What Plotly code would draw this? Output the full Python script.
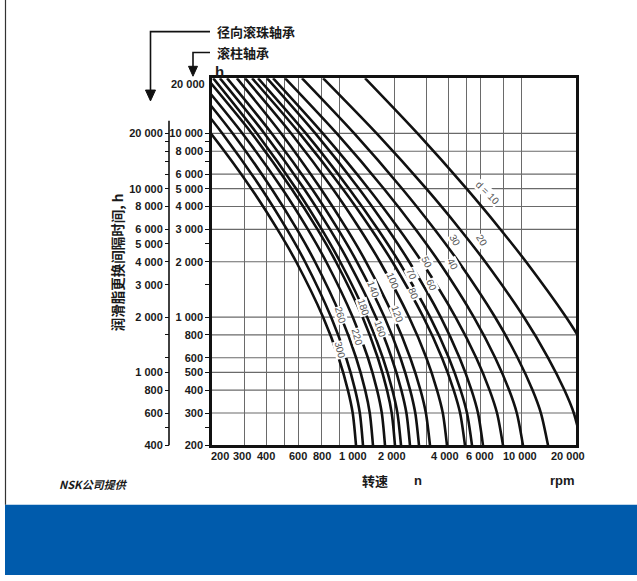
import math
import plotly.graph_objects as go

W, H = 637, 581

# ---------------- data ----------------
speed_tick_values = [200, 300, 400, 600, 800, 1000, 2000, 4000, 6000, 10000, 20000]
speed_tick_labels = ["200", "300", "400", "600", "800", "1 000", "2 000", "4 000", "6 000", "10 000", "20 000"]
speed_grid = [300, 400, 500, 600, 800, 1000, 2000, 3000, 4000, 5000, 6000, 8000, 10000]

roller_tick_values = [10000, 8000, 6000, 5000, 4000, 3000, 2000, 1000, 800, 600, 500, 400, 300, 200]
roller_tick_labels = ["10 000", "8 000", "6 000", "5 000", "4 000", "3 000", "2 000",
                      "1 000", "800", "600", "500", "400", "300", "200"]
roller_minor = [9000, 7000, 2500, 1500, 250]
roller_grid = [10000, 8000, 6000, 5000, 4000, 3000, 2000, 1000, 800, 600, 500, 400, 300]

ball_tick_values = [20000, 10000, 8000, 6000, 5000, 4000, 3000, 2000, 1000, 800, 600, 400]
ball_tick_labels = ["20 000", "10 000", "8 000", "6 000", "5 000", "4 000", "3 000", "2 000",
                    "1 000", "800", "600", "400"]
ball_minor = [18000, 16000, 14000, 12000, 1600, 1200, 500]

# grease replenishment interval (roller bearings), h
hours = [20000, 10000, 5000, 3000, 2000, 1000, 600, 400, 300, 200]
# speed n (rpm) read at each hour level above, one list per bore diameter d (mm)
speed_d10 = [1386, 2692, 5010, 7696, 10626, 17620, 24400, None, None, None]
speed_d20 = [815, 1605, 3010, 4616, 6340, 10334, 14050, 17274, 19450, 21580]
speed_d30 = [624, 1209, 2218, 3346, 4528, 7176, 9552, 11536, 12828, 14040]
speed_d40 = [504, 969, 1760, 2632, 3530, 5490, 7194, 8580, 9456, 10228]
speed_d50 = [433, 813, 1450, 2138, 2840, 4354, 5658, 6702, 7362, 7944]
speed_d60 = [401, 739, 1285, 1856, 2424, 3612, 4582, 5332, 5788, 6166]
speed_d70 = [358, 656, 1133, 1634, 2128, 3158, 4000, 4644, 5036, 5366]
speed_d80 = [332, 606, 1045, 1503, 1958, 2898, 3668, 4256, 4616, 4910]
speed_d100 = [304, 545, 921, 1303, 1673, 2418, 3010, 3446, 3708, 3910]
speed_d120 = [274, 480, 792, 1104, 1402, 1993, 2454, 2796, 2994, 3154]
speed_d140 = [242, 426, 708, 986, 1251, 1771, 2168, 2454, 2618, 2744]
speed_d160 = [221, 388, 641, 890, 1126, 1589, 1940, 2194, 2340, 2448]
speed_d180 = [203, 353, 580, 802, 1012, 1423, 1736, 1960, 2088, 2186]
speed_d200 = [187, 331, 547, 760, 959, 1343, 1629, 1831, 1943, 2025]
speed_d220 = [167, 294, 486, 673, 848, 1186, 1438, 1615, 1714, 1785]
speed_d260 = [149, 260, 425, 586, 736, 1024, 1238, 1389, 1472, 1533]
speed_d280 = [131, 228, 374, 516, 649, 902, 1091, 1224, 1298, 1351]
speed_d300 = [111, 197, 329, 458, 580, 815, 992, 1116, 1186, 1237]

curves = [
    (10, speed_d10), (20, speed_d20), (30, speed_d30), (40, speed_d40), (50, speed_d50),
    (60, speed_d60), (70, speed_d70), (80, speed_d80), (100, speed_d100), (120, speed_d120),
    (140, speed_d140), (160, speed_d160), (180, speed_d180), (200, speed_d200),
    (220, speed_d220), (260, speed_d260), (280, speed_d280), (300, speed_d300),
]

curve_labels = ["d = 10", "20", "30", "40", "50", "60", "70", "80", "100", "120",
                "140", "160", "180", "260", "220", "300"]

# ---------------- layout helpers ----------------
def px(x):
    return x / W

def py(y):
    return 1 - y / H

X0, X1, Y0, Y1 = 212, 576, 79, 450   # plot frame in pixels
FONT = "Liberation Sans, Arial, Noto Sans CJK SC, sans-serif"
CJK = "Noto Sans CJK SC, Liberation Sans, sans-serif"

fig = go.Figure()

for d, ns in curves:
    xs, ys = [], []
    for n, h in zip(ns, hours):
        if n is not None:
            xs.append(n)
            ys.append(h)
    fig.add_trace(go.Scatter(x=xs, y=ys, mode="lines",
                             line=dict(color="#111111", width=2.6, shape="spline", smoothing=0.8),
                             hoverinfo="skip", showlegend=False))

# invisible trace that activates the ball-bearing axis
fig.add_trace(go.Scatter(x=[1000], y=[1000], yaxis="y2", mode="markers",
                         marker=dict(opacity=0), hoverinfo="skip", showlegend=False))

ann = []

def text(t, x, y, size=11, xanchor="center", yanchor="middle", angle=0,
         color="#1a1a1a", family=FONT, weight="bold", style="normal", bg=None):
    d = dict(text=t, x=px(x), y=py(y), xref="paper", yref="paper", showarrow=False,
             xanchor=xanchor, yanchor=yanchor, textangle=angle,
             font=dict(family=family, size=size, color=color, weight=weight, style=style))
    if bg:
        d["bgcolor"] = bg
        d["borderpad"] = 0
    ann.append(d)

# x tick labels
x_label_px = [220, 242, 266, 298, 322, 353, 392, 445, 480, 520, 568]
for lab, xp in zip(speed_tick_labels, x_label_px):
    text(lab, xp, 461, size=11)

text("20 000", 207, 85, size=11, xanchor="right")
text("h", 213, 72, size=15, xanchor="left")
text("滚柱轴承", 215, 53, size=13, xanchor="left", family=CJK)
text("径向滚珠轴承", 215, 32, size=13, xanchor="left", family=CJK)
text("润滑脂更换间隔时间, h", 117, 265, size=13.5, angle=-90, family=CJK)
text("转速", 375, 486, size=13, family=CJK)
text("n", 418, 486, size=13)
text("rpm", 562, 486, size=13)
text("NSK公司提供", 57, 489, size=11, xanchor="left", family=CJK, style="italic")

# curve labels (gray, rotated, next to / in a gap of the line)
label_pos = [(487, 195, 45), (482, 243, 58), (455, 243, 60), (453, 267, 62), (427, 265, 64),
             (432, 288, 66), (412, 277, 66), (413, 297, 68), (393, 283, 68), (397, 317, 70),
             (373, 293, 70), (380, 332, 72), (363, 310, 72), (340, 318, 74), (357, 340, 74),
             (340, 353, 76)]
for lab, (xp, yp, ang) in zip(curve_labels, label_pos):
    text(lab, xp, yp, size=10, angle=ang, color="#555555", weight="normal", bg="white")

shapes = []
# blue band
shapes.append(dict(type="rect", xref="paper", yref="paper", x0=px(5), x1=1, y0=0, y1=py(510),
                   fillcolor="#005bac", line=dict(width=0), layer="below"))
# left border
shapes.append(dict(type="line", xref="paper", yref="paper", x0=px(5.5), x1=px(5.5), y0=py(0), y1=py(510),
                   line=dict(color="#333333", width=1.2)))
# ball-bearing axis line
shapes.append(dict(type="line", xref="paper", yref="paper", x0=px(169), x1=px(169), y0=py(122), y1=py(450),
                   line=dict(color="#111111", width=1.6)))

def path(points):
    return "M " + " L ".join(f"{px(a):.5f},{py(b):.5f}" for a, b in points)

shapes.append(dict(type="path", xref="paper", yref="paper", path=path([(210, 32), (150.5, 32), (150.5, 93)]),
                   line=dict(color="#111111", width=1.6)))
shapes.append(dict(type="path", xref="paper", yref="paper", path=path([(145.5, 91), (155.5, 91), (150.5, 102)]) + " Z",
                   fillcolor="#111111", line=dict(color="#111111", width=1)))
shapes.append(dict(type="path", xref="paper", yref="paper", path=path([(210, 53), (193, 53), (193, 68)]),
                   line=dict(color="#111111", width=1.6)))
shapes.append(dict(type="path", xref="paper", yref="paper", path=path([(188.5, 67), (197.5, 67), (193, 77)]) + " Z",
                   fillcolor="#111111", line=dict(color="#111111", width=1)))

fig.update_layout(
    width=W, height=H, margin=dict(l=0, r=0, t=0, b=0),
    paper_bgcolor="white", plot_bgcolor="white", showlegend=False,
    xaxis=dict(type="log", domain=[px(X0), px(X1)], range=[math.log10(200), math.log10(20000)],
               tickvals=speed_grid, showticklabels=False, ticks="",
               showgrid=True, gridcolor="#6a6a6a", gridwidth=1.2,
               showline=True, linecolor="#111111", linewidth=2.6, mirror=True, zeroline=False),
    yaxis=dict(type="log", domain=[py(Y1), py(Y0)], range=[math.log10(200), math.log10(20000)],
               tickvals=roller_tick_values + roller_minor,
               ticktext=roller_tick_labels + [""] * len(roller_minor),
               ticks="outside", ticklen=4, tickwidth=1.2, tickcolor="#111111",
               tickfont=dict(family=FONT, size=11, color="#1a1a1a", weight="bold"),
               showgrid=False,
               showline=True, linecolor="#111111", linewidth=2.6, mirror=True, zeroline=False),
    yaxis2=dict(type="log", overlaying="y", anchor="free", position=px(169), side="left",
                range=[math.log10(400), math.log10(40000)],
                tickvals=ball_tick_values + ball_minor,
                ticktext=ball_tick_labels + [""] * len(ball_minor),
                ticks="outside", ticklen=4, tickwidth=1.2, tickcolor="#111111",
                tickfont=dict(family=FONT, size=11, color="#1a1a1a", weight="bold"),
                showgrid=False, showline=False, zeroline=False),
    annotations=ann, shapes=shapes,
)

# horizontal grid lines (as shapes so that the minor ticks get no grid line)
for g in roller_grid:
    fig.add_shape(type="line", xref="paper", yref="y", x0=px(X0), x1=px(X1), y0=g, y1=g,
                  line=dict(color="#6a6a6a", width=1.2), layer="below")

fig.write_html("out.html", config={"displayModeBar": False},
               post_script="document.body.style.margin='0px';")
